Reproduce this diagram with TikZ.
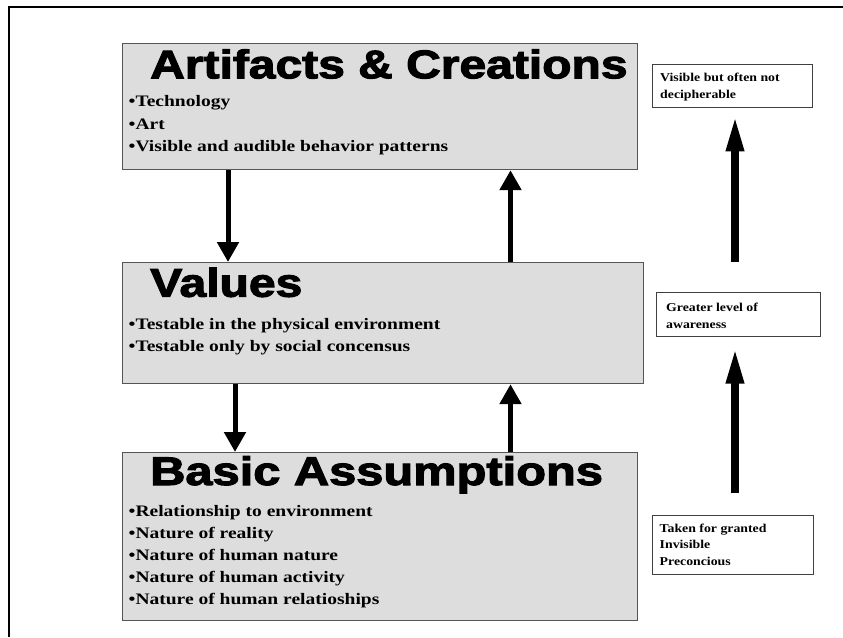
\documentclass[tikz,border=0pt]{standalone}
\usepackage{fontspec}
\usepackage{graphicx}
\setmainfont{Liberation Serif}
\newfontfamily\titlefont[FakeBold=2.5]{Liberation Sans}
\usetikzlibrary{arrows.meta}
\definecolor{boxfill}{HTML}{DDDDDD}
\definecolor{boxedge}{HTML}{555555}
\newcommand\wideblock[2]{\scalebox{#1}[1]{\begin{tabular}[t]{@{}l@{}}#2\end{tabular}}}
\tikzset{
  box/.style={draw=boxedge, fill=boxfill, line width=1.2pt, anchor=north west, inner sep=0pt},
  note/.style={draw=black!75, fill=white, line width=0.9pt, anchor=north west, inner sep=0pt},
  title/.style={anchor=base west, inner sep=0pt, font=\titlefont\bfseries\fontsize{40}{40}\selectfont},
  bullets/.style={anchor=base west, inner sep=0pt, font=\bfseries\fontsize{16}{22.5}\selectfont},
  notetext/.style={anchor=base west, inner sep=0pt, font=\bfseries\fontsize{12}{16.5}\selectfont},
  arr/.style={line width=5pt, -{Triangle[width=21pt,length=20pt]}},
  bigarr/.style={line width=8.5pt, -{Triangle[width=16pt,length=38pt]}}
}
\begin{document}
\begin{tikzpicture}[x=1pt,y=-1pt]
\useasboundingbox (0,0) rectangle (843,637);
\draw[line width=2pt] (8.5,637) -- (8.5,6.5) -- (843,6.5);

% main boxes
\node[box, minimum width=515pt, minimum height=126pt] (art) at (122,43) {};
\node[box, minimum width=521pt, minimum height=121pt] (val) at (122,262) {};
\node[box, minimum width=515pt, minimum height=168pt] (bas) at (122,452) {};

\node[title] (artT) at (150,78.3) {\scalebox{1.2}[1]{Artifacts \& Creations}};
\node[bullets] (artB) at (128.5,106.7) {\wideblock{1.22}{•Technology\\•Art\\•Visible and audible behavior patterns}};

\node[title] (valT) at (150,296.7) {\scalebox{1.2}[1]{Values}};
\node[bullets] (valB) at (128.5,329) {\wideblock{1.22}{•Testable in the physical environment\\•Testable only by social concensus}};

\node[title] (basT) at (150,485) {\scalebox{1.22}[1]{Basic Assumptions}};
\node[bullets, font=\bfseries\fontsize{16}{22}\selectfont] (basB) at (128.5,516) {\wideblock{1.22}{•Relationship to environment\\•Nature of reality\\•Nature of human nature\\•Nature of human activity\\•Nature of human relatioships}};

% side notes
\node[note, minimum width=160pt, minimum height=43pt] (n1) at (652,63.5) {};
\node[notetext] (n1t) at (660,81.7) {\wideblock{1.15}{Visible but often not\\decipherable}};
\node[note, minimum width=164pt, minimum height=44pt] (n2) at (656,291.7) {};
\node[notetext] (n2t) at (666,311.7) {\wideblock{1.15}{Greater level of\\awareness}};
\node[note, minimum width=161pt, minimum height=59pt] (n3) at (652,515) {};
\node[notetext, font=\bfseries\fontsize{12}{16.2}\selectfont] (n3t) at (659.5,532.7) {\wideblock{1.15}{Taken for granted\\Invisible\\Preconcious}};

% connectors between the main boxes
\coordinate (xa) at (228,0);
\coordinate (xb) at (510.5,0);
\coordinate (xc) at (235,0);
\draw[arr] (art.south -| xa) -- (val.north -| xa);
\draw[arr] (val.north -| xb) -- (art.south -| xb);
\draw[arr] (val.south -| xc) -- (bas.north -| xc);
\draw[arr] (bas.north -| xb) -- (val.south -| xb);

% side arrows
\coordinate (s1) at (735,262);
\coordinate (s2) at (735,493.3);
\draw[bigarr] (s1) -- ([yshift=-6pt]n1.south -| s1);
\draw[bigarr] (s2) -- ([yshift=-9pt]n2.south -| s2);
\end{tikzpicture}
\end{document}
